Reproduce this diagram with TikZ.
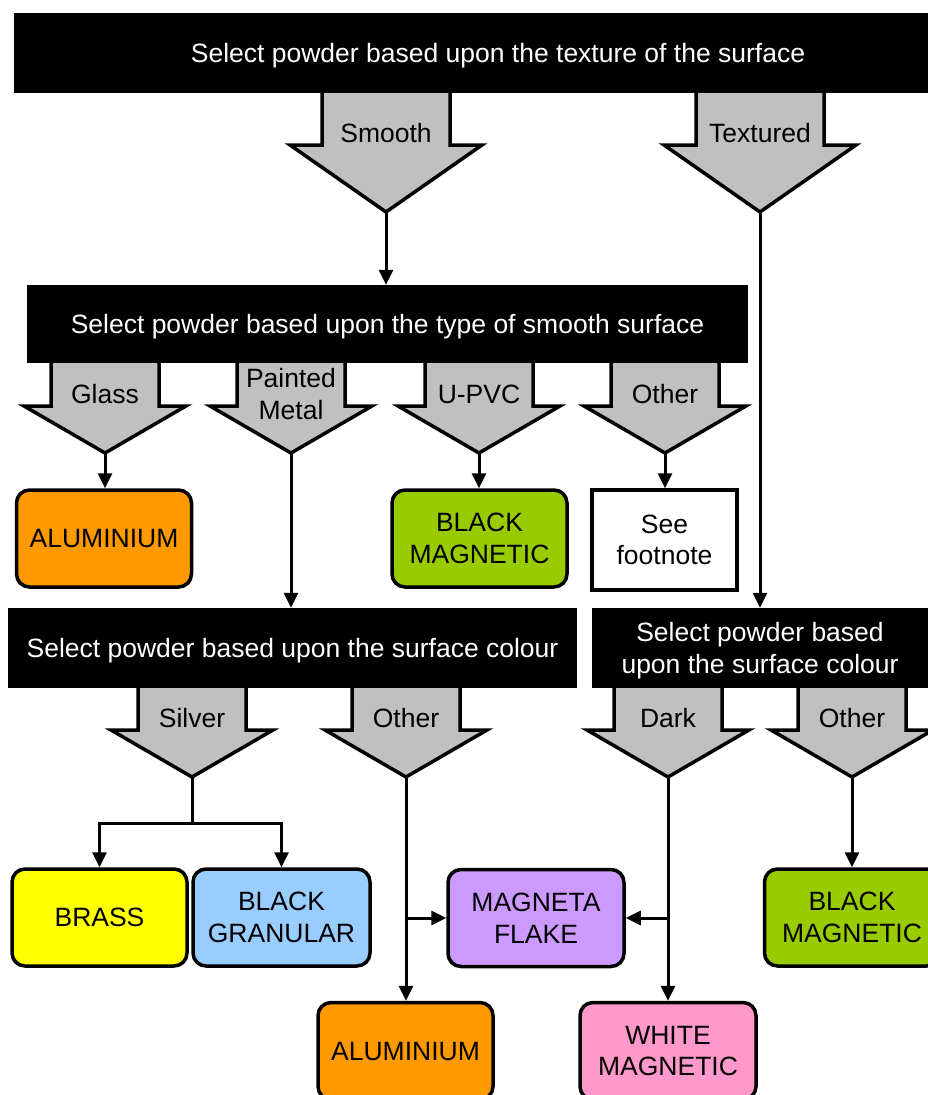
\documentclass[tikz,border=0pt]{standalone}
\usepackage{fontspec}
\setmainfont{Liberation Sans}
\usetikzlibrary{arrows.meta}

\definecolor{armgray}{HTML}{C0C0C0}
\definecolor{aluorange}{HTML}{FF9900}
\definecolor{maggreen}{HTML}{99CC00}
\definecolor{brassyellow}{HTML}{FFFF00}
\definecolor{granblue}{HTML}{99CCFF}
\definecolor{flakepurple}{HTML}{CC99FF}
\definecolor{whitepink}{HTML}{FF99CC}

% fat grey arrow: name, x, top, head base, tip, shaft half width, label
\newcommand{\bigarrow}[7]{%
  \draw[fatarm] (#2-#6,#3) -- (#2-#6,#4) -- (#2-1.5*#6,#4) -- (#2,#5)
    -- (#2+1.5*#6,#4) -- (#2+#6,#4) -- (#2+#6,#3);
  \coordinate (#1) at (#2,#5);
  \node[armlabel] (#1lab) at (#2,#4-12) {#7};
}

\begin{document}
\begin{tikzpicture}[
    x=1pt, y=-1pt,
    font=\fontsize{26.5}{31.5}\selectfont,
    fatarm/.style={
        draw=black, line width=3.5pt, fill=armgray,
        line join=miter
    },
    armlabel/.style={align=center, inner sep=0pt},
    selectbar/.style={
        rectangle, fill=black, text=white,
        minimum height=80pt, align=center, inner sep=0pt,
        text depth=0pt
    },
    powder/.style={
        rectangle, rounded corners=13pt,
        draw=black, line width=3.5pt,
        minimum width=175pt, minimum height=97pt,
        align=center, inner sep=0pt
    },
    arrow/.style={-{Triangle[length=15pt,width=14pt]}, line width=3pt},
    link/.style={line width=3pt},
]
\useasboundingbox (0,0) rectangle (928,1095);
\clip (0,0) rectangle (928,1095);

% ---------- Texture ----------
\bigarrow{smooth}{386}{53}{145}{212}{64}{Smooth}
\bigarrow{textured}{760}{53}{145}{212}{64}{Textured}
\node[selectbar, minimum width=968pt] (texture) at (498,53)
    {Select powder based upon the texture of the surface};

% ---------- Smooth surface type ----------
\bigarrow{glass}{105}{324}{406}{453}{54}{Glass}
\bigarrow{painted}{291}{324}{406}{453}{54}{Painted\\Metal}
\bigarrow{upvc}{479}{324}{406}{453}{54}{U-PVC}
\bigarrow{othersmooth}{665}{324}{406}{453}{54}{Other}
\node[selectbar, minimum width=721pt, minimum height=78pt] (smoothtype) at (387.5,324)
    {Select powder based upon the type of smooth surface};

\node[powder, fill=aluorange] (alu1) at (104,538.5) {ALUMINIUM};
\node[powder, fill=maggreen] (blackmag1) at (479.5,538.5) {BLACK\\MAGNETIC};
\node[powder, rounded corners=0pt, minimum width=145pt, minimum height=100pt]
    (footnote) at (664.5,540) {See\\footnote};

% ---------- Surface colour ----------
\bigarrow{silver}{192}{648}{730}{777}{54}{Silver}
\bigarrow{otherpaint}{406}{648}{730}{777}{54}{Other}
\bigarrow{dark}{668}{648}{730}{777}{54}{Dark}
\bigarrow{othertex}{852}{648}{730}{777}{54}{Other}
\node[selectbar, minimum width=569pt] (colourpaint) at (292.5,648)
    {Select powder based upon the surface colour};
\node[selectbar, minimum width=336pt] (colourtex) at (760,648)
    {Select powder based\\upon the surface colour};

\node[powder, fill=brassyellow] (brass) at (99.5,917.5) {BRASS};
\node[powder, fill=granblue, minimum width=177pt] (granular) at (281.5,917.5) {BLACK\\GRANULAR};
\node[powder, fill=flakepurple, minimum width=176pt] (flake) at (536,918) {MAGNETA\\FLAKE};
\node[powder, fill=maggreen] (blackmag2) at (852,917.5) {BLACK\\MAGNETIC};
\node[powder, fill=aluorange] (alu2) at (405.5,1051) {ALUMINIUM};
\node[powder, fill=whitepink, minimum width=176pt] (whitemag) at (668,1051) {WHITE\\MAGNETIC};

% ---------- Arrows ----------
\draw[arrow] (smooth) -- (smooth |- smoothtype.north);
\draw[arrow] (textured) -- (colourtex.north);

\draw[arrow] (glass) -- (glass |- alu1.north);
\draw[arrow] (painted) -- (painted |- colourpaint.north);
\draw[arrow] (upvc) -- (upvc |- blackmag1.north);
\draw[arrow] (othersmooth) -- (othersmooth |- footnote.north);

\draw[link] (silver) -- ++(0,46) coordinate (silverjoin);
\draw[arrow] (silverjoin) -| (brass.north);
\draw[arrow] (silverjoin) -| (granular.north);

\draw[arrow] (otherpaint) -- (otherpaint |- alu2.north);
\draw[arrow] (otherpaint |- flake.west) -- (flake.west);

\draw[arrow] (dark) -- (dark |- whitemag.north);
\draw[arrow] (dark |- flake.east) -- (flake.east);

\draw[arrow] (othertex) -- (othertex |- blackmag2.north);

\end{tikzpicture}
\end{document}
